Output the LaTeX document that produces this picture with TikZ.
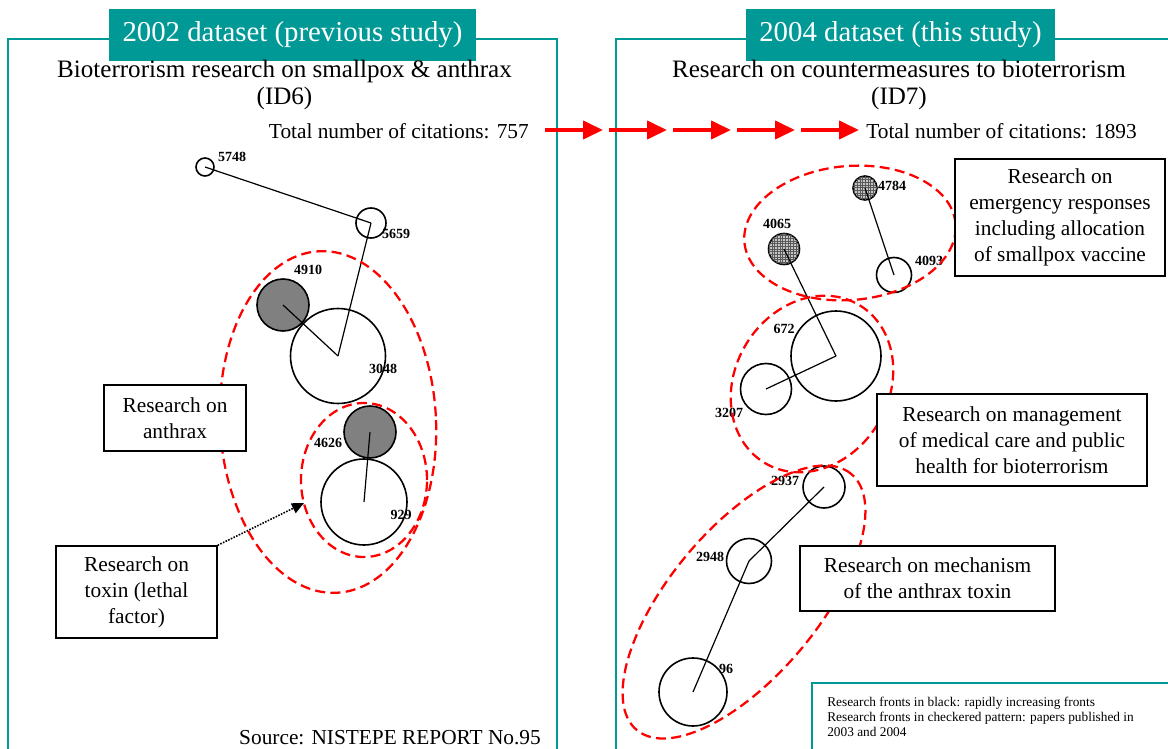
\documentclass[tikz,border=0pt]{standalone}
\usepackage{fontspec}
\setmainfont{Liberation Serif}
\usetikzlibrary{arrows.meta,patterns}
\definecolor{frameteal}{RGB}{0,153,150}

% fine grid used for the checkered research fronts
\pgfdeclarepatternformonly{finegrid}{\pgfqpoint{-0.5pt}{-0.5pt}}{\pgfqpoint{2.5pt}{2.5pt}}{\pgfqpoint{2pt}{2pt}}{%
  \pgfsetlinewidth{0.45pt}%
  \pgfpathmoveto{\pgfqpoint{0pt}{1pt}}\pgfpathlineto{\pgfqpoint{2pt}{1pt}}%
  \pgfpathmoveto{\pgfqpoint{1pt}{0pt}}\pgfpathlineto{\pgfqpoint{1pt}{2pt}}%
  \pgfusepath{stroke}}

\tikzset{
  ring/.style={circle, draw, line width=1.2pt, inner sep=0pt},
  solidfront/.style={ring, fill=black!50},
  checkfront/.style={ring, fill=gray!45, postaction={pattern=finegrid, pattern color=black!65}},
  rfid/.style={font=\fontsize{10.5}{12}\selectfont\bfseries, inner sep=0pt},
  tie/.style={line width=0.9pt},
  grp/.style={draw=red, line width=1.7pt, dash pattern=on 7.5pt off 4pt},
  topicbox/.style={draw, fill=white, line width=1pt, align=center,
                   font=\fontsize{16}{19.5}\selectfont, inner sep=0pt},
  header/.style={fill=frameteal, text=white, font=\fontsize{21.6}{24}\selectfont, inner sep=0pt},
  panel/.style={draw=frameteal, line width=1.5pt},
  trend/.style={draw=red, line width=3pt, -{Triangle[length=15pt,width=13.5pt]}},
  pointer/.style={line width=1.2pt, densely dotted, -{Triangle[length=9pt,width=8pt]}},
  bodytext/.style={font=\fontsize{16}{19}\selectfont, inner sep=0pt},
  titletext/.style={font=\fontsize{18.8}{20.25}\selectfont, align=center, inner sep=0pt},
}

\begin{document}
\begin{tikzpicture}[x=0.75pt, y=-0.75pt]
\clip (0,0) rectangle (1168,749);

% panel frames
\draw[panel] (8,760) -- (8,39) -- (557,39) -- (557,760);
\draw[panel] (616,760) -- (616,39) -- (1180,39);

% panel headers
\node[header, minimum width=275.25pt, minimum height=39pt] (lhead) at (292.5,35) {2002 dataset (previous study)};
\node[header, minimum width=231.75pt, minimum height=39pt] (rhead) at (900.5,35) {2004 dataset (this study)};

% titles
\node[titletext] (ltitle) at (284.5,85) {Bioterrorism research on smallpox \& anthrax\\(ID6)};
\node[titletext] (rtitle) at (899,85) {Research on countermeasures to bioterrorism\\(ID7)};
\node[bodytext, anchor=east] (ltotal) at (529,131) {Total number of citations: 757};
\node[bodytext, anchor=west] (rtotal) at (866,131) {Total number of citations: 1893};

% growth arrows between the totals
\foreach \i in {0,...,4}{
  \coordinate (tr\i s) at ({545+64*\i},130);
  \coordinate (tr\i e) at ({603+64*\i},130);
  \draw[trend] (tr\i s) -- (tr\i e);
}

% ---- 2002 research fronts ----
\node[ring, minimum size=13.5pt] (f5748) at (205,167) {};
\node[ring, minimum size=22.5pt] (f5659) at (371,223) {};
\node[ring, minimum size=71.25pt] (f3048) at (338,356) {};
\node[solidfront, minimum size=39pt] (f4910) at (283,305) {};
\node[ring, minimum size=64.5pt] (f929) at (364,502) {};
\node[solidfront, minimum size=39pt] (f4626) at (370,432) {};

\draw[tie] (f5748.center) -- (f5659.center);
\draw[tie] (f5659.center) -- (f3048.center);
\draw[tie] (f3048.center) -- (f4910.center);
\draw[tie] (f929.center) -- (f4626.center);

\node[rfid] (l5748) at (232,157) {5748};
\node[rfid] (l5659) at (396,234) {5659};
\node[rfid] (l4910) at (308,270) {4910};
\node[rfid] (l3048) at (383,369) {3048};
\node[rfid] (l4626) at (328,443) {4626};
\node[rfid] (l929) at (401,515) {929};

\draw[grp, rotate around={3:(328,422)}] (328,422) ellipse [x radius=81pt, y radius=128.25pt];
\draw[grp] (364,480) ellipse [x radius=47.25pt, y radius=57.75pt];

\node[topicbox, minimum width=106.5pt, minimum height=49.5pt] (anthrax) at (175,418) {Research on\\anthrax};
\node[topicbox, minimum width=120.75pt, minimum height=69pt] (toxin) at (136.5,592) {Research on\\toxin (lethal\\factor)};
\coordinate (toxtip) at (304,503);
\draw[pointer] (toxin.north east) -- (toxtip);

\node[bodytext] (source) at (390,738) {Source: NISTEPE REPORT No.95};

% ---- 2004 research fronts ----
\node[checkfront, minimum size=18pt] (f4784) at (865,188) {};
\node[checkfront, minimum size=23.25pt] (f4065) at (784,249) {};
\node[ring, minimum size=26.25pt] (f4093) at (894,275) {};
\node[ring, minimum size=67.5pt] (f672) at (836,356) {};
\node[ring, minimum size=38.25pt] (f3207) at (766,389) {};
\node[ring, minimum size=31.5pt] (f2937) at (824,487) {};
\node[ring, minimum size=33.75pt] (f2948) at (749,561) {};
\node[ring, minimum size=51pt] (f96) at (693,692) {};

\draw[tie] (f4784.center) -- (f4093.center);
\draw[tie] (f4065.center) -- (f672.center);
\draw[tie] (f672.center) -- (f3207.center);
\draw[tie] (f2937.center) -- (f2948.center);
\draw[tie] (f2948.center) -- (f96.center);

\node[rfid] (l4784) at (892,186) {4784};
\node[rfid] (l4065) at (777,224) {4065};
\node[rfid] (l4093) at (929,261) {4093};
\node[rfid] (l672) at (784,329) {672};
\node[rfid] (l3207) at (729,413) {3207};
\node[rfid] (l2937) at (785,481) {2937};
\node[rfid] (l2948) at (710,557) {2948};
\node[rfid] (l96) at (726,669) {96};

\draw[grp, rotate around={5:(850,233)}] (850,233) ellipse [x radius=79.5pt, y radius=50.25pt];
\draw[grp, rotate around={-31:(812,384)}] (812,384) ellipse [x radius=57.75pt, y radius=69pt];
\draw[grp, rotate around={50:(744,602)}] (744,602) ellipse [x radius=125.25pt, y radius=55.5pt];

\node[topicbox, minimum width=157.5pt, minimum height=87.75pt] (emergency) at (1060,217.5) {Research on\\emergency responses\\including allocation\\of smallpox vaccine};
\node[topicbox, minimum width=202.5pt, minimum height=69pt] (management) at (1012,440) {Research on management\\of medical care and public\\health for bioterrorism};
\node[topicbox, minimum width=191.25pt, minimum height=48.75pt] (mechanism) at (927.5,578.5) {Research on mechanism\\of the anthrax toxin};

% legend
\draw[draw=frameteal, line width=2.2pt, fill=white] (812,683) rectangle (1180,770);
\node[anchor=north west, align=left, inner sep=0pt, font=\fontsize{10}{11.25}\selectfont] (legend) at (827,697)
  {Research fronts in black: rapidly increasing fronts\\Research fronts in checkered pattern: papers published in\\2003 and 2004};
\end{tikzpicture}
\end{document}
